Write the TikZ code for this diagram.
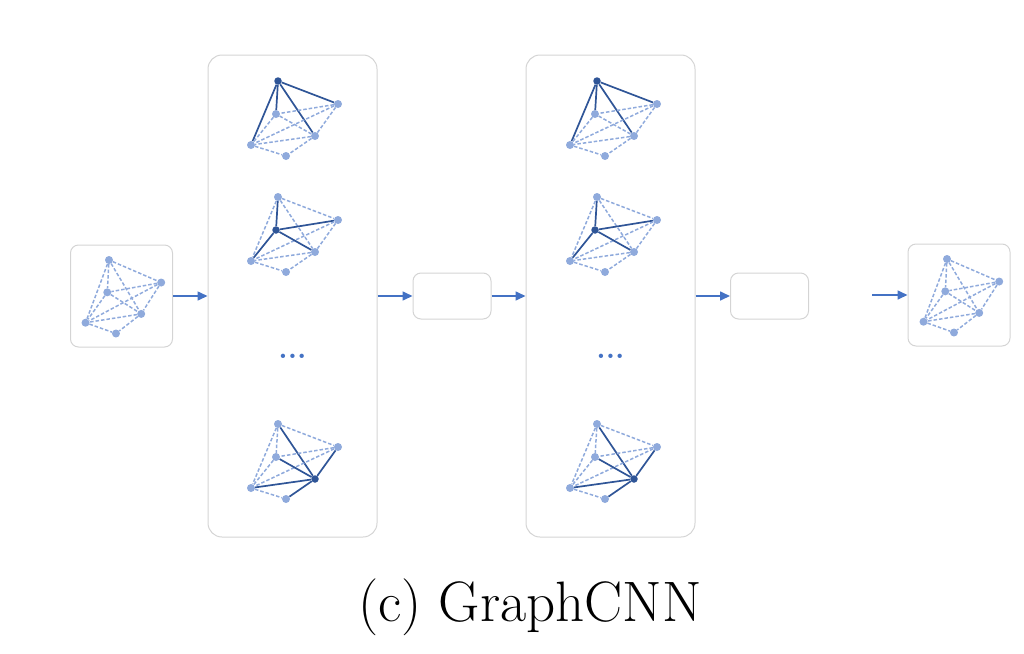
\documentclass[tikz,border=0pt]{standalone}
\usetikzlibrary{arrows.meta}
\definecolor{gdark}{HTML}{2F5597}
\definecolor{glight}{HTML}{8FAADC}
\definecolor{garrow}{HTML}{4472C4}
\definecolor{gbox}{HTML}{D4D4D4}
\tikzset{
  gdotlight/.style={circle,fill=glight,inner sep=0pt,minimum size=8pt},
  gdotdark/.style={circle,fill=gdark,inner sep=0pt,minimum size=7.5pt},
  sedge/.style={draw=gdark,line width=1.7pt},
  dedge/.style={draw=glight,line width=1.5pt,dash pattern=on 3.5pt off 2pt},
  bigbox/.style={draw=gbox,line width=1pt,rounded corners=14pt,minimum width=169pt,minimum height=482pt,inner sep=0pt},
  smallbox/.style={draw=gbox,line width=1pt,rounded corners=8pt,minimum width=78pt,minimum height=46pt,inner sep=0pt},
  iobox/.style={draw=gbox,line width=1pt,rounded corners=8pt,minimum width=102pt,minimum height=102pt,inner sep=0pt},
  flow/.style={draw=garrow,line width=1.6pt,-{Triangle[length=10pt,width=9pt]}},
  dotstext/.style={text=garrow,font=\fontsize{30}{32}\selectfont\bfseries,anchor=base,inner sep=0pt},
}
\newcommand\gnodeat[4]{% prefix, letter, x, y
  \def\tmpu{#2}%
  \ifx\tmpu\ghl\def\nstyle{gdotdark}\else\def\nstyle{gdotlight}\fi
  \edef\tmpcmd{\noexpand\node[\nstyle]}\tmpcmd (#1#2) at (#3,#4) {};}
\newcommand\gedge[3]{% prefix, u, v
  \def\tmpu{#2}\def\tmpv{#3}%
  \ifx\tmpu\ghl\def\estyle{sedge}\else\ifx\tmpv\ghl\def\estyle{sedge}\else\def\estyle{dedge}\fi\fi
  \edef\tmpcmd{\noexpand\path[\estyle]}\tmpcmd (#1#2) -- (#1#3);}
\newcommand\mygraph[6]{% prefix, x, y, xscale, yscale, highlight
  \begin{scope}[shift={(#2,#3)},xscale=#4,yscale=#5]
    \def\ghl{#6}%
    \gnodeat{#1}{A}{0}{0}
    \gnodeat{#1}{B}{60}{23}
    \gnodeat{#1}{C}{-2}{33}
    \gnodeat{#1}{D}{37}{55}
    \gnodeat{#1}{E}{-27}{64}
    \gnodeat{#1}{F}{8}{75}
    \gedge{#1}{A}{B}\gedge{#1}{A}{C}\gedge{#1}{A}{D}\gedge{#1}{A}{E}
    \gedge{#1}{B}{C}\gedge{#1}{B}{D}\gedge{#1}{B}{E}
    \gedge{#1}{C}{D}\gedge{#1}{C}{E}
    \gedge{#1}{D}{E}\gedge{#1}{D}{F}\gedge{#1}{E}{F}
  \end{scope}}
\begin{document}
\begin{tikzpicture}[x=1pt,y=-1pt]
\useasboundingbox (0,0) rectangle (1024,653);
% boxes
\node[iobox] (in) at (121.5,296) {};
\node[bigbox] (L1) at (292.5,296) {};
\node[smallbox] (S1) at (452,296) {};
\node[bigbox] (L2) at (610.5,296) {};
\node[smallbox] (S2) at (769.5,296) {};
\node[iobox] (out) at (959,295) {};
\coordinate (outsrc) at (872,295);
% graphs
\mygraph{gi}{109}{260}{0.87}{0.98}{none}
\mygraph{ga}{278}{81}{1}{1}{A}
\mygraph{gb}{278}{197}{1}{1}{C}
\mygraph{gc}{278}{424}{1}{1}{D}
\mygraph{gd}{597}{81}{1}{1}{A}
\mygraph{ge}{597}{197}{1}{1}{C}
\mygraph{gf}{597}{424}{1}{1}{D}
\mygraph{go}{947}{259}{0.87}{0.98}{none}
% dots
\node[dotstext] (dots1) at (292.5,358) {...};
\node[dotstext] (dots2) at (610.5,358) {...};
% arrows
\draw[flow] (in.east) -- (L1.west);
\draw[flow] (L1.east) -- (S1.west);
\draw[flow] (S1.east) -- (L2.west);
\draw[flow] (L2.east) -- (S2.west);
\draw[flow] (outsrc) -- (out.west);
% caption
\node[anchor=base,inner sep=0pt,font=\fontsize{57}{62}\selectfont] (cap) at (530,621) {(c) GraphCNN};
\end{tikzpicture}
\end{document}
